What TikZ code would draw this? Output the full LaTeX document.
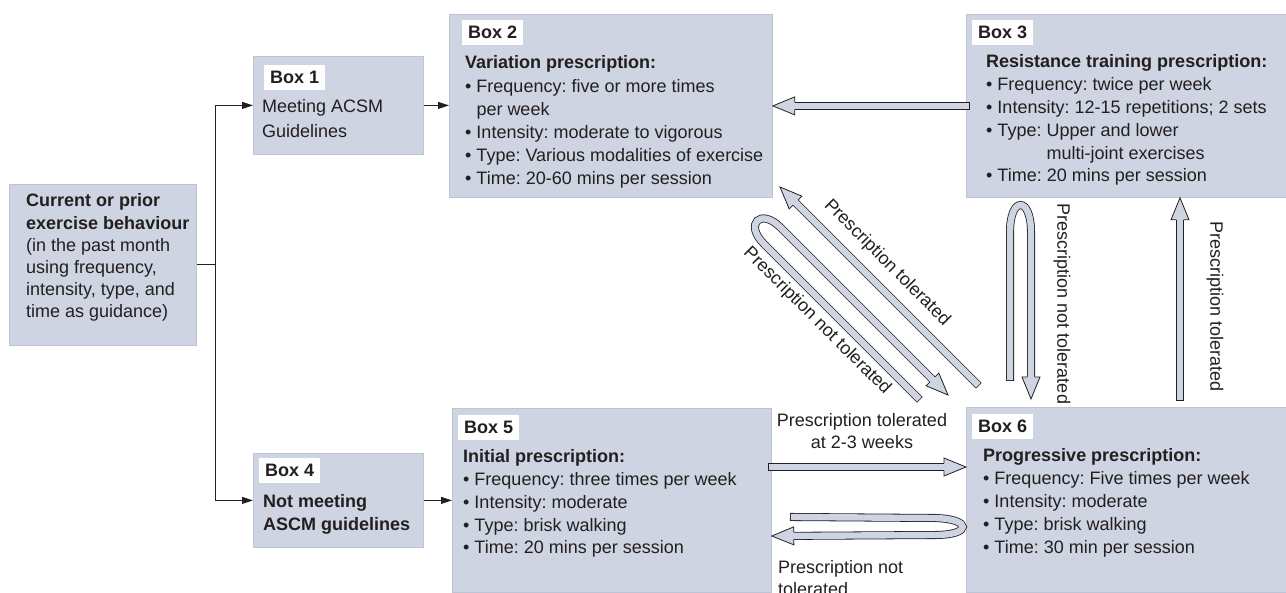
\documentclass[tikz,border=0pt]{standalone}
\usepackage{fontspec}
\setmainfont{Liberation Sans}
\usetikzlibrary{positioning,calc,arrows.meta}
\frenchspacing

\definecolor{boxfill}{RGB}{206,212,225}
\definecolor{boxline}{RGB}{188,196,211}
\definecolor{ink}{RGB}{35,31,32}

% open head of a broad arrow: #1 a point on the shaft, #2 the tip
\newcommand{\fathead}[2]{%
  \coordinate (hb) at ($(#2)!22pt!(#1)$);
  \fill[boxfill] ($(hb)!9pt!90:(#2)$) -- (#2) -- ($(hb)!9pt!-90:(#2)$) -- cycle;
  \draw[ink, line width=0.8pt, line join=miter]
    ($(hb)!3.6pt!90:(#2)$) -- ($(hb)!9pt!90:(#2)$) -- (#2)
    -- ($(hb)!9pt!-90:(#2)$) -- ($(hb)!3.6pt!-90:(#2)$);}
\newcommand{\fatarrow}[2]{%
  \draw[shaft] (#1) -- ($(#2)!22pt!(#1)$);
  \fathead{#1}{#2}}

\begin{document}
\begin{tikzpicture}[
    x=1pt, y=-1pt,
    every node/.style={text=ink},
    box/.style={draw=boxline, line width=0.8pt, fill=boxfill, anchor=north west, inner sep=0pt},
    tag/.style={fill=white, minimum width=61pt, minimum height=25pt, inner sep=0pt,
        font=\fontsize{18}{22}\selectfont\bfseries},
    % multi-line text sits on the baseline of its last line
    txt/.style={anchor=base west, align=left, inner sep=0pt, font=\fontsize{18}{22.8}\selectfont},
    link/.style={draw=ink, line width=0.9pt, -{Triangle[length=11pt,width=7pt]}},
    shaft/.style={draw=ink, line width=0.8pt, double=boxfill, double distance=6.4pt, line cap=rect},
    lbl/.style={inner sep=0pt, font=\fontsize{18}{22}\selectfont}
]
\useasboundingbox (0,0) rectangle (1286,593);

% boxes
\node[box, minimum width=187pt, minimum height=161pt] (b0) at (9,184) {};
\node[box, minimum width=170pt, minimum height=98pt] (b1) at (253,56) {};
\node[box, minimum width=323pt, minimum height=183pt] (b2) at (449,14) {};
\node[box, minimum width=322pt, minimum height=183pt] (b3) at (966,14) {};
\node[box, minimum width=170pt, minimum height=94pt] (b4) at (253,453) {};
\node[box, minimum width=319pt, minimum height=184pt] (b5) at (452,408) {};
\node[box, minimum width=322pt, minimum height=185pt] (b6) at (966,407) {};

\node[tag, below right=9pt and 11pt of b1.north west] (t1) {Box 1};
\node[tag, below right=6pt and 13pt of b2.north west] (t2) {Box 2};
\node[tag, below right=6pt and 6pt of b3.north west] (t3) {Box 3};
\node[tag, below right=5pt and 6pt of b4.north west] (t4) {Box 4};
\node[tag, below right=7pt and 6pt of b5.north west] (t5) {Box 5};
\node[tag, below right=7pt and 6pt of b6.north west] (t6) {Box 6};

\node[txt, font=\fontsize{18}{22.2}\selectfont] (x0) at (26,318)
    {\textbf{Current or prior}\\\textbf{exercise behaviour}\\(in the past month\\using frequency,\\intensity, type, and\\time as guidance)};
\node[txt, font=\fontsize{18}{25}\selectfont] (x1) at (262,138) {Meeting ACSM\\Guidelines};
\node[txt, font=\fontsize{18}{23.2}\selectfont] (x2) at (465,185)
    {\textbf{Variation prescription:}\\• Frequency: five or more times\\\phantom{• }per week\\• Intensity: moderate to vigorous\\• Type: Various modalities of exercise\\• Time: 20-60 mins per session};
\node[txt] (x3) at (986,182)
    {\textbf{Resistance training prescription:}\\• Frequency: twice per week\\• Intensity: 12-15 repetitions; 2 sets\\• Type: Upper and lower\\\phantom{• Type: }multi-joint exercises\\• Time: 20 mins per session};
\node[txt, font=\fontsize{18}{23.5}\selectfont\bfseries] (x4) at (263,531) {Not meeting\\ASCM guidelines};
\node[txt] (x5) at (463,554)
    {\textbf{Initial prescription:}\\• Frequency: three times per week\\• Intensity: moderate\\• Type: brisk walking\\• Time: 20 mins per session};
\node[txt] (x6) at (983,553)
    {\textbf{Progressive prescription:}\\• Frequency: Five times per week\\• Intensity: moderate\\• Type: brisk walking\\• Time: 30 min per session};

% thin links
\draw[link] (b0.east) -- ++(19,0) coordinate (fork) |- (b1.west);
\draw[link] (fork) |- (b4.west);
\draw[link] (b1.east) -- (b1.east -| b2.west);
\draw[link] (b4.east) -- (b4.east -| b5.west);

% broad arrows
\fatarrow{b3.west}{b2.east}
\coordinate (p5) at (b5.east |- 0,467);
\coordinate (p6) at (b6.west |- 0,467);
\fatarrow{p5}{p6}
\coordinate (q6) at (1180,397);
\coordinate (q3) at (b3.south -| 1180,0);
\fatarrow{q6}{q3}
\coordinate (d6) at (976,383);
\coordinate (d2) at (780,187);
\fatarrow{d6}{d2}

% turned-back arrows
\coordinate (h1) at (794,517);
\coordinate (h2) at (b5.east |- 0,536);
\draw[shaft] (h1) -- (935,518) .. controls (972,519) and (972,535) .. (935,535) -- ($(h2)!22pt!(935,535)$);
\fathead{935,535}{h2}
\coordinate (v1) at (1010,377);
\coordinate (v2) at (1031,399);
\draw[shaft] (v1) -- (1010,232) .. controls (1010,196) and (1031,196) .. (1031,232) -- ($(v2)!22pt!(1031,232)$);
\fathead{1031,232}{v2}
\coordinate (g1) at (917,397);
\coordinate (g2) at (948,395);
\draw[shaft] (g1) -- (764,244) .. controls (744,224) and (760.5,207.5) .. (780.5,227.5) -- ($(g2)!22pt!(780.5,227.5)$);
\fathead{780.5,227.5}{g2}

% labels
\node[lbl, rotate=-45] (l1) at (887,263) {Prescription tolerated};
\node[lbl, rotate=-45] (l2) at (817,321) {Prescription not tolerated};
\node[lbl, rotate=-90] (l3) at (1062,304) {Prescription not tolerated};
\node[lbl, rotate=-90] (l4) at (1215,307) {Prescription tolerated};
\node[lbl, align=center] (l5) at (862,431) {Prescription tolerated\\at 2-3 weeks};
\node[lbl, align=left, anchor=base west] (l6) at (778,595) {Prescription not\\tolerated};
\end{tikzpicture}
\end{document}
